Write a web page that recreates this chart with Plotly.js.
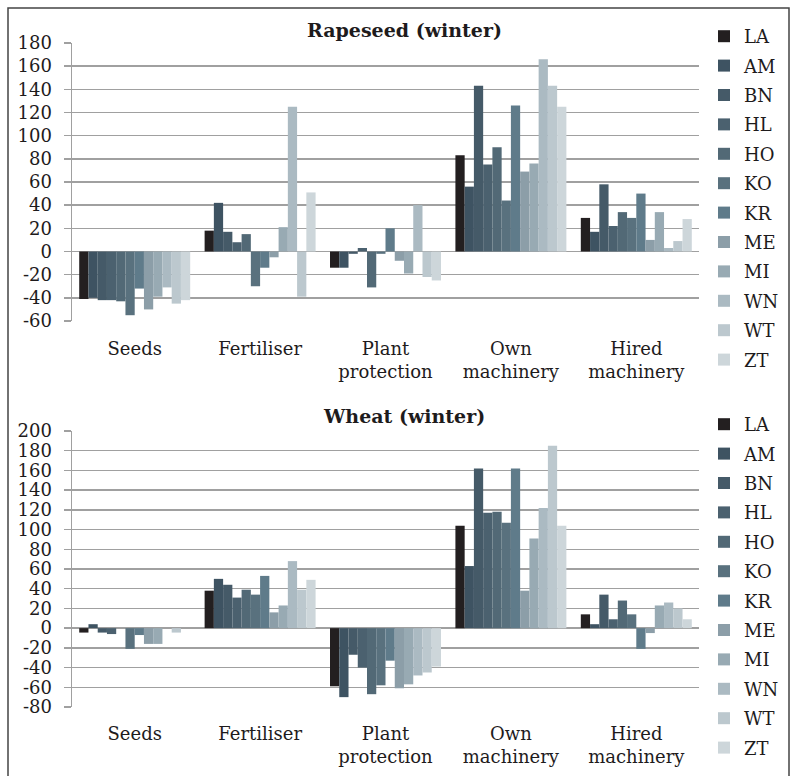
<!DOCTYPE html>
<html>
<head>
<meta charset="utf-8">
<script src="https://cdn.plot.ly/plotly-3.0.1.min.js"></script>
<style>html,body{margin:0;padding:0;background:#fff;}#chart{width:791px;height:776px;}</style>
</head>
<body>
<div id="chart"></div>
<script>
// ---- data ----
const categories = ['Seeds', 'Fertiliser', 'Plant<br>protection', 'Own<br>machinery', 'Hired<br>machinery'];
const regions = ['LA', 'AM', 'BN', 'HL', 'HO', 'KO', 'KR', 'ME', 'MI', 'WN', 'WT', 'ZT'];
const yTicksRapeseed = [-60, -40, -20, 0, 20, 40, 60, 80, 100, 120, 140, 160, 180];
const yTicksWheat = [-80, -60, -40, -20, 0, 20, 40, 60, 80, 100, 120, 140, 160, 180, 200];

// Rapeseed (winter): values per region across categories
const rapeLA = [-41, 18, -14, 83, 29];
const rapeAM = [-40, 42, -14, 56, 17];
const rapeBN = [-42, 17, -2, 143, 58];
const rapeHL = [-42, 8, 3, 75, 22];
const rapeHO = [-43, 15, -31, 90, 34];
const rapeKO = [-55, -30, -2, 44, 29];
const rapeKR = [-32, -14, 20, 126, 50];
const rapeME = [-50, -5, -8, 69, 10];
const rapeMI = [-39, 21, -19, 76, 34];
const rapeWN = [-31, 125, 40, 166, 3];
const rapeWT = [-45, -39, -22, 143, 9];
const rapeZT = [-42, 51, -25, 125, 28];

// Wheat (winter)
const wheatLA = [-4.5, 38, -59, 104, 14];
const wheatAM = [4, 50, -70, 63, 4];
const wheatBN = [-4.5, 44, -27, 162, 34];
const wheatHL = [-6, 31, -40, 117, 9];
const wheatHO = [0, 39, -67, 118, 28];
const wheatKO = [-21, 34, -58, 107, 14];
const wheatKR = [-7, 53, -33, 162, -21];
const wheatME = [-16, 16, -61, 38, -5];
const wheatMI = [-16, 23, -57, 91, 23];
const wheatWN = [0, 68, -48, 122, 26];
const wheatWT = [-4.5, 39, -45, 185, 20];
const wheatZT = [0, 49, -39, 104, 9];

const rapeSeries = [rapeLA, rapeAM, rapeBN, rapeHL, rapeHO, rapeKO, rapeKR, rapeME, rapeMI, rapeWN, rapeWT, rapeZT];
const wheatSeries = [wheatLA, wheatAM, wheatBN, wheatHL, wheatHO, wheatKO, wheatKR, wheatME, wheatMI, wheatWN, wheatWT, wheatZT];

// ---- styles ----
const colors = ['#231f20', '#3e5362', '#455a68', '#4b616f', '#526976', '#59717e',
                '#5f7b8a', '#8c9ea8', '#98aab3', '#abbac2', '#bcc8ce', '#cdd6da'];
const W = 791, H = 776;
const px = v => v / W;
const py = v => 1 - v / H;
const FONT = 'DejaVu Serif';
const TXT = '#1e1b1c';
const GRID = '#a0a0a0';

const traces = [];
regions.forEach((r, i) => {
  traces.push({
    type: 'bar', name: r, x: categories, y: rapeSeries[i],
    marker: {color: colors[i], line: {width: 0}},
    xaxis: 'x', yaxis: 'y', legend: 'legend', legendgroup: 'r' + r
  });
});
regions.forEach((r, i) => {
  traces.push({
    type: 'bar', name: r, x: categories, y: wheatSeries[i],
    marker: {color: colors[i], line: {width: 0}},
    xaxis: 'x2', yaxis: 'y2', legend: 'legend2', legendgroup: 'w' + r
  });
});

const xDom = [px(72), px(699)];
const yDom1 = [py(321), py(43)];
const yDom2 = [py(707), py(431)];
const yR1 = [-60, 180], yR2 = [-80, 200];
const zeroPos = (dom, r) => dom[0] + (0 - r[0]) / (r[1] - r[0]) * (dom[1] - dom[0]);

function yAxis(dom, range, ticks) {
  return {
    domain: dom, range: range, tickvals: ticks, ticktext: ticks.map(String),
    showgrid: true, gridcolor: GRID, gridwidth: 1.5,
    zeroline: true, zerolinecolor: GRID, zerolinewidth: 1.5,
    showline: true, linecolor: GRID, linewidth: 1.5,
    ticks: 'outside', ticklen: 7, tickcolor: GRID, tickwidth: 1.5,
    ticklabelstandoff: 8,
    tickfont: {family: FONT, size: 18, color: TXT}, fixedrange: true
  };
}
function xAxis(dom, anchor, standoff) {
  return {
    domain: dom, anchor: anchor, type: 'category',
    showgrid: false, zeroline: false, showline: false, ticks: '',
    ticklabelstandoff: standoff,
    tickfont: {family: FONT, size: 18, color: TXT}, fixedrange: true
  };
}
function tickAxis(over, pos) {
  return {
    overlaying: over, anchor: 'free', position: pos, domain: xDom,
    range: [-0.5, categories.length - 0.5], tickvals: [0.5, 1.5, 2.5, 3.5, 4.5],
    showticklabels: false, showgrid: false, zeroline: false, showline: false,
    ticks: 'outside', ticklen: 6, tickcolor: GRID, tickwidth: 1.5, fixedrange: true
  };
}
function legend(y) {
  return {
    x: px(704), xanchor: 'left', y: y, yanchor: 'top',
    font: {family: FONT, size: 18, color: TXT}, tracegroupgap: 3,
    bgcolor: 'rgba(0,0,0,0)', itemclick: false, itemdoubleclick: false
  };
}

const layout = {
  width: W, height: H,
  margin: {l: 0, r: 0, t: 0, b: 0},
  paper_bgcolor: '#ffffff', plot_bgcolor: '#ffffff',
  barmode: 'group', bargap: 0.115, bargroupgap: 0,
  xaxis: xAxis(xDom, 'y', 15),
  yaxis: yAxis(yDom1, yR1, yTicksRapeseed),
  xaxis2: xAxis(xDom, 'y2', 14),
  yaxis2: yAxis(yDom2, yR2, yTicksWheat),
  xaxis3: tickAxis('x', zeroPos(yDom1, yR1)),
  xaxis4: tickAxis('x2', zeroPos(yDom2, yR2)),
  legend: legend(py(18)),
  legend2: legend(py(406)),
  annotations: [
    {text: '<b>Rapeseed (winter)</b>', xref: 'paper', yref: 'y', x: px(404), y: 180,
     yshift: 13, xanchor: 'center', yanchor: 'middle', showarrow: false,
     bgcolor: '#ffffff', borderpad: 4, font: {family: FONT, size: 19, color: TXT}},
    {text: '<b>Wheat (winter)</b>', xref: 'paper', yref: 'y2', x: px(404), y: 200,
     yshift: 15, xanchor: 'center', yanchor: 'middle', showarrow: false,
     bgcolor: '#ffffff', borderpad: 4, font: {family: FONT, size: 19, color: TXT}}
  ],
  shapes: [
    {type: 'rect', xref: 'paper', yref: 'paper', x0: px(8), x1: px(789), y0: -0.05, y1: py(8),
     line: {color: '#444444', width: 1.5}, fillcolor: 'rgba(0,0,0,0)', layer: 'below'}
  ],
  hovermode: false
};

Plotly.newPlot('chart', traces, layout, {displayModeBar: false, staticPlot: true});
</script>
</body>
</html>
